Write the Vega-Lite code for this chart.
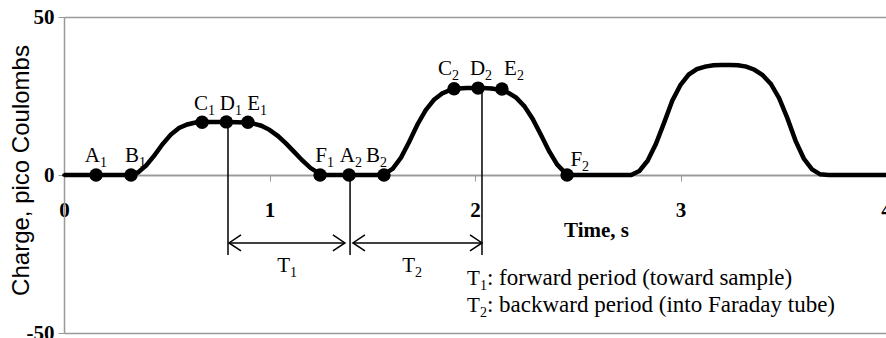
{
  "$schema": "https://vega.github.io/schema/vega-lite/v6.json",
  "autosize": "none",
  "width": 822,
  "height": 316,
  "padding": {"left": 64, "top": 17, "right": 0, "bottom": 5},
  "background": "white",
  "config": {"view": {"stroke": null}},
  "datasets": {
    "curve": [
      {"t": 0.00, "q": 0}, {"t": 0.04, "q": 0}, {"t": 0.08, "q": 0}, {"t": 0.12, "q": 0}, {"t": 0.16, "q": 0},
      {"t": 0.20, "q": 0}, {"t": 0.24, "q": 0}, {"t": 0.28, "q": 0}, {"t": 0.32, "q": 0}, {"t": 0.36, "q": 0.8},
      {"t": 0.40, "q": 3.0}, {"t": 0.44, "q": 6.2}, {"t": 0.48, "q": 9.8}, {"t": 0.52, "q": 12.8}, {"t": 0.56, "q": 14.9},
      {"t": 0.60, "q": 16.0}, {"t": 0.64, "q": 16.6}, {"t": 0.68, "q": 16.8}, {"t": 0.72, "q": 16.8}, {"t": 0.76, "q": 16.8},
      {"t": 0.80, "q": 16.8}, {"t": 0.84, "q": 16.7}, {"t": 0.88, "q": 16.6}, {"t": 0.92, "q": 16.3}, {"t": 0.96, "q": 15.6},
      {"t": 1.00, "q": 14.3}, {"t": 1.04, "q": 12.4}, {"t": 1.08, "q": 10.0}, {"t": 1.12, "q": 7.3}, {"t": 1.16, "q": 4.6},
      {"t": 1.20, "q": 2.2}, {"t": 1.24, "q": 0.6}, {"t": 1.28, "q": 0}, {"t": 1.32, "q": 0}, {"t": 1.36, "q": 0},
      {"t": 1.40, "q": 0}, {"t": 1.44, "q": 0}, {"t": 1.48, "q": 0}, {"t": 1.52, "q": 0}, {"t": 1.56, "q": 0.3},
      {"t": 1.60, "q": 2.0}, {"t": 1.64, "q": 5.5}, {"t": 1.68, "q": 10.5}, {"t": 1.72, "q": 16.0}, {"t": 1.76, "q": 20.5},
      {"t": 1.80, "q": 23.8}, {"t": 1.84, "q": 25.8}, {"t": 1.88, "q": 26.9}, {"t": 1.92, "q": 27.4}, {"t": 1.96, "q": 27.5},
      {"t": 2.00, "q": 27.5}, {"t": 2.04, "q": 27.5}, {"t": 2.08, "q": 27.4}, {"t": 2.12, "q": 27.0}, {"t": 2.16, "q": 26.1},
      {"t": 2.20, "q": 24.5}, {"t": 2.24, "q": 21.8}, {"t": 2.28, "q": 17.8}, {"t": 2.32, "q": 12.8}, {"t": 2.36, "q": 7.6},
      {"t": 2.40, "q": 3.3}, {"t": 2.44, "q": 0.6}, {"t": 2.48, "q": 0}, {"t": 2.52, "q": 0}, {"t": 2.56, "q": 0},
      {"t": 2.60, "q": 0}, {"t": 2.64, "q": 0}, {"t": 2.68, "q": 0}, {"t": 2.72, "q": 0}, {"t": 2.76, "q": 0},
      {"t": 2.80, "q": 1.3}, {"t": 2.84, "q": 4.5}, {"t": 2.88, "q": 9.8}, {"t": 2.92, "q": 16.5}, {"t": 2.96, "q": 23.5},
      {"t": 3.00, "q": 28.5}, {"t": 3.04, "q": 31.8}, {"t": 3.08, "q": 33.5}, {"t": 3.12, "q": 34.3}, {"t": 3.16, "q": 34.7},
      {"t": 3.20, "q": 34.8}, {"t": 3.24, "q": 34.8}, {"t": 3.28, "q": 34.7}, {"t": 3.32, "q": 34.3}, {"t": 3.36, "q": 33.3},
      {"t": 3.40, "q": 31.6}, {"t": 3.44, "q": 28.8}, {"t": 3.48, "q": 24.3}, {"t": 3.52, "q": 18.0}, {"t": 3.56, "q": 10.8},
      {"t": 3.60, "q": 5.2}, {"t": 3.64, "q": 1.8}, {"t": 3.68, "q": 0.2}, {"t": 3.72, "q": 0}, {"t": 3.76, "q": 0},
      {"t": 3.80, "q": 0}, {"t": 3.84, "q": 0}, {"t": 3.88, "q": 0}, {"t": 3.92, "q": 0}, {"t": 3.96, "q": 0},
      {"t": 4.00, "q": 0}
    ],
    "keypts": [
      {"name": "A1", "t": 0.156, "q": 0}, {"name": "B1", "t": 0.326, "q": 0},
      {"name": "C1", "t": 0.672, "q": 16.7}, {"name": "D1", "t": 0.790, "q": 16.8}, {"name": "E1", "t": 0.895, "q": 16.7},
      {"name": "F1", "t": 1.246, "q": 0}, {"name": "A2", "t": 1.387, "q": 0}, {"name": "B2", "t": 1.557, "q": 0},
      {"name": "C2", "t": 1.898, "q": 27.3}, {"name": "D2", "t": 2.015, "q": 27.5}, {"name": "E2", "t": 2.131, "q": 27.2},
      {"name": "F2", "t": 2.448, "q": 0}
    ],
    "labels": [
      {"main": "A", "sub": "1", "t": 0.175, "q": 4.1}, {"main": "B", "sub": "1", "t": 0.365, "q": 4.1},
      {"main": "C", "sub": "1", "t": 0.701, "q": 20.6}, {"main": "D", "sub": "1", "t": 0.832, "q": 20.6},
      {"main": "E", "sub": "1", "t": 0.954, "q": 20.6}, {"main": "F", "sub": "1", "t": 1.280, "q": 4.1},
      {"main": "A", "sub": "2", "t": 1.416, "q": 4.1}, {"main": "B", "sub": "2", "t": 1.538, "q": 4.1},
      {"main": "C", "sub": "2", "t": 1.888, "q": 31.6}, {"main": "D", "sub": "2", "t": 2.049, "q": 31.6},
      {"main": "E", "sub": "2", "t": 2.204, "q": 31.6}, {"main": "F", "sub": "2", "t": 2.521, "q": 3.0},
      {"main": "T", "sub": "1", "t": 1.100, "q": -30.7}, {"main": "T", "sub": "2", "t": 1.708, "q": -30.7}
    ],
    "vlines": [
      {"t": 0.798, "top": 16.8, "bottom": -25.3},
      {"t": 1.392, "top": 0, "bottom": -25.3},
      {"t": 2.034, "top": 27.5, "bottom": -25.3}
    ],
    "arrows": [
      {"period": "T1", "from": 0.803, "to": 1.367, "q": -21.5},
      {"period": "T2", "from": 1.406, "to": 2.034, "q": -21.5}
    ],
    "heads": [
      {"t": 0.803, "q": -21.5, "dir": "left"}, {"t": 1.367, "q": -21.5, "dir": "right"},
      {"t": 1.406, "q": -21.5, "dir": "left"}, {"t": 2.034, "q": -21.5, "dir": "right"}
    ],
    "notes": [
      {"main": "T", "sub": "1", "rest": ": forward period (toward sample)", "t": 2.024, "q": -34.8},
      {"main": "T", "sub": "2", "rest": ": backward period (into Faraday tube)", "t": 2.024, "q": -43.4}
    ]
  },
  "layer": [
    {
      "data": {"name": "vlines"},
      "mark": {"type": "rule", "color": "black", "strokeWidth": 1.5},
      "encoding": {
        "x": {"field": "t", "type": "quantitative", "scale": {"domain": [0, 4], "nice": false},
          "axis": {"offset": -158, "values": [0, 1, 2, 3, 4], "labelFlush": false, "labelOverlap": false,
            "labelExpr": "'' + datum.value",
            "domainColor": "#999999", "domainWidth": 1.5, "tickColor": "#999999", "tickWidth": 1, "tickSize": 6,
            "labelFont": "Times New Roman, Liberation Serif, serif", "labelFontWeight": "bold", "labelFontSize": 21, "labelColor": "black",
            "labelBaseline": "middle", "labelPadding": 29, "grid": false,
            "title": "Time, s", "titleFont": "Times New Roman, Liberation Serif, serif", "titleFontWeight": "bold", "titleFontSize": 21,
            "titleColor": "black", "titleX": 532, "titleY": 55, "titleAlign": "center", "titleBaseline": "middle"}},
        "y": {"field": "top", "type": "quantitative", "scale": {"domain": [-50, 50], "nice": false},
          "axis": {"values": [-50, 0, 50], "grid": true, "gridColor": "#999999", "gridWidth": 1.5,
            "labelExpr": "datum.value < 0 ? '-' + abs(datum.value) : '' + datum.value",
            "domainColor": "#999999", "domainWidth": 1.5, "tickColor": "#999999", "tickSize": 6,
            "labelFont": "Times New Roman, Liberation Serif, serif", "labelFontWeight": "bold", "labelFontSize": 21, "labelColor": "black",
            "labelPadding": 4, "labelFlush": false, "labelOverlap": false,
            "title": "Charge, pico Coulombs", "titleFont": "Arial, Liberation Sans, sans-serif", "titleFontWeight": "normal",
            "titleFontSize": 24, "titleColor": "black", "titleX": -43, "titleY": 153, "titleAlign": "center",
            "titleBaseline": "middle", "titleAngle": -90}},
        "y2": {"field": "bottom"}
      }
    },
    {
      "data": {"name": "arrows"},
      "mark": {"type": "rule", "color": "black", "strokeWidth": 1.5},
      "encoding": {
        "x": {"field": "from", "type": "quantitative"},
        "x2": {"field": "to"},
        "y": {"field": "q", "type": "quantitative"}
      }
    },
    {
      "data": {"name": "heads"},
      "mark": {"type": "point", "filled": false, "color": "black", "strokeWidth": 1.5, "size": 100, "opacity": 1},
      "encoding": {
        "x": {"field": "t", "type": "quantitative"},
        "y": {"field": "q", "type": "quantitative"},
        "shape": {"field": "dir", "type": "nominal", "legend": null,
          "scale": {"domain": ["left", "right"], "range": ["M2.4,-1.6L0,0L2.4,1.6", "M-2.4,-1.6L0,0L-2.4,1.6"]}}
      }
    },
    {
      "data": {"name": "curve"},
      "mark": {"type": "line", "color": "black", "strokeWidth": 4.5, "point": {"filled": true, "color": "black", "size": 14}},
      "encoding": {
        "x": {"field": "t", "type": "quantitative"},
        "y": {"field": "q", "type": "quantitative"}
      }
    },
    {
      "data": {"name": "keypts"},
      "mark": {"type": "circle", "color": "black", "size": 180, "opacity": 1},
      "encoding": {
        "x": {"field": "t", "type": "quantitative"},
        "y": {"field": "q", "type": "quantitative"}
      }
    },
    {
      "data": {"name": "labels"},
      "mark": {"type": "text", "font": "Times New Roman, Liberation Serif, serif", "fontSize": 21, "align": "right", "baseline": "alphabetic", "color": "black"},
      "encoding": {
        "x": {"field": "t", "type": "quantitative"},
        "y": {"field": "q", "type": "quantitative"},
        "text": {"field": "main"}
      }
    },
    {
      "data": {"name": "labels"},
      "mark": {"type": "text", "font": "Times New Roman, Liberation Serif, serif", "fontSize": 14, "align": "left", "baseline": "alphabetic", "dy": 5, "color": "black"},
      "encoding": {
        "x": {"field": "t", "type": "quantitative"},
        "y": {"field": "q", "type": "quantitative"},
        "text": {"field": "sub"}
      }
    },
    {
      "data": {"name": "notes"},
      "mark": {"type": "text", "font": "Times New Roman, Liberation Serif, serif", "fontSize": 21, "align": "right", "baseline": "alphabetic", "color": "black"},
      "encoding": {
        "x": {"field": "t", "type": "quantitative"},
        "y": {"field": "q", "type": "quantitative"},
        "text": {"field": "main"}
      }
    },
    {
      "data": {"name": "notes"},
      "mark": {"type": "text", "font": "Times New Roman, Liberation Serif, serif", "fontSize": 14, "align": "left", "baseline": "alphabetic", "dy": 5, "color": "black"},
      "encoding": {
        "x": {"field": "t", "type": "quantitative"},
        "y": {"field": "q", "type": "quantitative"},
        "text": {"field": "sub"}
      }
    },
    {
      "data": {"name": "notes"},
      "mark": {"type": "text", "font": "Times New Roman, Liberation Serif, serif", "fontSize": 23, "align": "left", "baseline": "alphabetic", "dx": 7, "color": "black"},
      "encoding": {
        "x": {"field": "t", "type": "quantitative"},
        "y": {"field": "q", "type": "quantitative"},
        "text": {"field": "rest"}
      }
    }
  ]
}
